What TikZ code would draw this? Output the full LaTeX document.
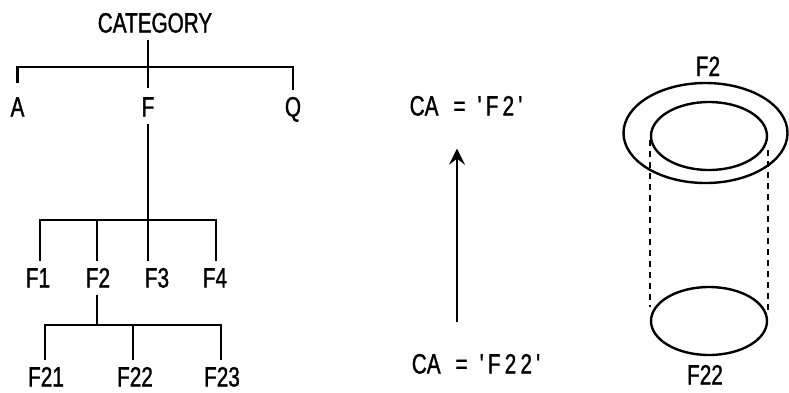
\documentclass[tikz,border=0pt]{standalone}
\usepackage{fontspec}
\setmainfont{Liberation Sans}[FakeStretch=0.74,FakeBold=1.2]
\newfontfamily\spacedfont{Liberation Sans}[FakeStretch=0.74,FakeBold=1.2,LetterSpace=15]
\usetikzlibrary{arrows.meta,shapes.geometric}
\begin{document}
\begin{tikzpicture}[x=1pt,y=-1pt,
  lbl/.style={inner xsep=0pt,inner ysep=7pt,text height=19pt,text depth=0pt,
    font=\fontsize{28}{30}\selectfont},
  tree/.style={line width=2.5pt},
  ring/.style={ellipse,draw,line width=2.4pt,inner sep=0pt},
  guide/.style={line width=1.8pt,dash pattern=on 6pt off 5pt}]
\useasboundingbox (0,0) rectangle (789,392);
% tree
\node[lbl] (cat) at (155,23) {CATEGORY};
\node[lbl] (A) at (17.5,107) {A};
\node[lbl] (F) at (148,107) {F};
\node[lbl] (Q) at (293,107) {Q};
\coordinate (bar1) at (148,67);
\draw[tree] (cat.south -| F.north) -- ([yshift=2pt]F.north);
\draw[tree] ([yshift=7pt]A.north) -- (A.north |- bar1) -- (Q.north |- bar1) -- (Q.north);
\node[lbl] (F1) at (38,278) {F1};
\node[lbl] (F2) at (98,278) {F2};
\node[lbl] (F3) at (157,278) {F3};
\node[lbl] (F4) at (215,278) {F4};
\coordinate (bar2) at (148,220);
\draw[tree] (F.south) -- (F.south |- F3.north);
\draw[tree] ([xshift=2pt]F1.north) -- ([xshift=2pt]F1.north |- bar2) -- ([xshift=1pt]F4.north |- bar2) -- ([xshift=1pt]F4.north);
\draw[tree] ([xshift=-1pt]F2.north) -- ([xshift=-1pt]F2.north |- bar2);
\node[lbl] (F21) at (46,377) {F21};
\node[lbl] (F22) at (135,377) {F22};
\node[lbl] (F23) at (222,377) {F23};
\coordinate (bar3) at (97,325);
\draw[tree] ([xshift=-1pt]F2.south) -- ([xshift=-1pt]F2.south |- bar3);
\draw[tree] ([xshift=-1pt]F21.north) -- ([xshift=-1pt]F21.north |- bar3) -- ([xshift=-1pt]F23.north |- bar3) -- ([xshift=-1pt]F23.north);
\draw[tree] ([xshift=-2pt]F22.north) -- ([xshift=-2pt]F22.north |- bar3);
% middle
\node[lbl] (ca1) at (466,106) {CA\hspace{15pt}=\hspace{12pt}{\spacedfont 'F2'}};
\node[lbl] (ca2) at (476,364) {CA\hspace{15pt}=\hspace{12pt}{\spacedfont 'F22'}};
\coordinate (ax) at (457,0);
\draw[line width=2.4pt,-{Stealth[length=16pt,width=16pt,inset=6pt]},
  shorten <=25pt,shorten >=26pt] (ca2.north -| ax) -- (ca1.south -| ax);
% right
\node[ring,minimum width=164pt,minimum height=100pt] (outer) at (705.5,133) {};
\node[ring,minimum width=116pt,minimum height=68pt] (inner) at (709,136) {};
\node[ring,minimum width=116pt,minimum height=68pt] (lower) at (709,321) {};
\draw[guide,shorten <=4pt,shorten >=14pt] (inner.west) -- (lower.west);
\draw[guide,shorten <=14pt,shorten >=8pt] (inner.east) -- (lower.east);
\node[lbl] (lF2) at (708,66.5) {F2};
\node[lbl] (lF22) at (705,375) {F22};
\end{tikzpicture}
\end{document}
